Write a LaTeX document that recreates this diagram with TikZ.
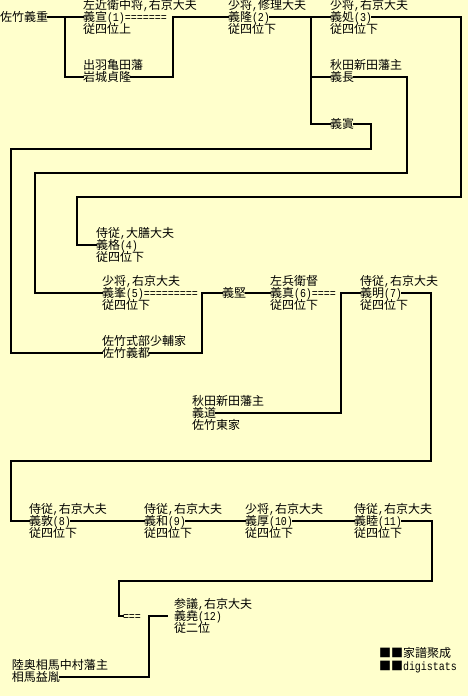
\documentclass[tikz,border=0pt]{standalone}
\usepackage{fontspec}
\setmainfont{Noto Sans CJK JP}
\newfontfamily\hwfont[FakeStretch=0.833]{Liberation Mono}
\newcommand{\hw}[1]{{\hwfont #1}}
\definecolor{bgyellow}{HTML}{FFFFCC}
\begin{document}
\begin{tikzpicture}[x=1pt,y=-1pt,
  lbl/.style={anchor=west,inner sep=0pt,outer sep=0pt,font=\fontsize{12}{12}\selectfont,text height=10.56pt,text depth=1.44pt},
  conn/.style={line width=2.2pt,line join=miter,line cap=rect}]
\fill[bgyellow] (0,0) rectangle (468,696);
\useasboundingbox (0,0) rectangle (468,696);
% generation 0
\node[lbl] (t1) at (0,17) {佐竹義重};
% 1
\node[lbl] (n1a) at (83,5) {左近衛中将\hw{,}右京大夫};
\node[lbl] (n1) at (83,17) {義宣\hw{(1)=======}};
\node[lbl] (n1c) at (83,29) {従四位上};
\node[lbl] (iwa) at (83,65) {出羽亀田藩};
\node[lbl] (iw) at (83,77) {岩城貞隆};
% 2
\node[lbl] (n2a) at (228,5) {少将\hw{,}修理大夫};
\node[lbl] (n2) at (228,17) {義隆\hw{(2)}};
\node[lbl] (n2c) at (228,29) {従四位下};
% 3
\node[lbl] (n3a) at (330,5) {少将\hw{,}右京大夫};
\node[lbl] (n3) at (330,17) {義処\hw{(3)}};
\node[lbl] (n3c) at (330,29) {従四位下};
\node[lbl] (yna) at (330,65) {秋田新田藩主};
\node[lbl] (yn) at (330,77) {義長};
\node[lbl] (yo) at (330,124) {義寘};
% 4
\node[lbl] (n4a) at (96,233) {侍従\hw{,}大膳大夫};
\node[lbl] (n4) at (96,245) {義格\hw{(4)}};
\node[lbl] (n4c) at (96,257) {従四位下};
% 5
\node[lbl] (n5a) at (102,281) {少将\hw{,}右京大夫};
\node[lbl] (n5) at (102,293) {義峯\hw{(5)=========}};
\node[lbl] (n5c) at (102,305) {従四位下};
\node[lbl] (ysata) at (102,341) {佐竹式部少輔家};
\node[lbl] (ysat) at (102,353) {佐竹義都};
\node[lbl] (yk) at (222,293) {義堅};
% 6
\node[lbl] (n6a) at (270,281) {左兵衛督};
\node[lbl] (n6) at (270,293) {義真\hw{(6)====}};
\node[lbl] (n6c) at (270,305) {従四位下};
\node[lbl] (yda) at (192,401) {秋田新田藩主};
\node[lbl] (yd) at (192,413) {義道};
\node[lbl] (ydc) at (192,425) {佐竹東家};
% 7
\node[lbl] (n7a) at (360,281) {侍従\hw{,}右京大夫};
\node[lbl] (n7) at (360,293) {義明\hw{(7)}};
\node[lbl] (n7c) at (360,305) {従四位下};
% 8-11
\node[lbl] (n8a) at (29,509) {侍従\hw{,}右京大夫};
\node[lbl] (n8) at (29,521) {義敦\hw{(8)}};
\node[lbl] (n8c) at (29,533) {従四位下};
\node[lbl] (n9a) at (144,509) {侍従\hw{,}右京大夫};
\node[lbl] (n9) at (144,521) {義和\hw{(9)}};
\node[lbl] (n9c) at (144,533) {従四位下};
\node[lbl] (n10a) at (245,509) {少将\hw{,}右京大夫};
\node[lbl] (n10) at (245,521) {義厚\hw{(10)}};
\node[lbl] (n10c) at (245,533) {従四位下};
\node[lbl] (n11a) at (354,509) {侍従\hw{,}右京大夫};
\node[lbl] (n11) at (354,521) {義睦\hw{(11)}};
\node[lbl] (n11c) at (354,533) {従四位下};
% 12
\node[lbl] (eq) at (123,616) {\hw{===}};
\node[lbl] (n12a) at (174,604) {参議\hw{,}右京大夫};
\node[lbl] (n12) at (174,616) {義堯\hw{(12)}};
\node[lbl] (n12c) at (174,628) {従二位};
\node[lbl] (sma) at (12,665) {陸奥相馬中村藩主};
\node[lbl] (sm) at (12,677) {相馬益胤};
% logo
\node[lbl] (logo1) at (379,653) {■■家譜聚成};
\node[lbl] (logo2) at (379,666) {■■\hw{digistats}};
% junctions
\coordinate (j1) at (65,17);
\coordinate (j2) at (173,17);
\coordinate (j3) at (311,17);
\coordinate (k1) at (461,197);
\coordinate (k2) at (77,245);
\coordinate (m1) at (407,173);
\coordinate (m2) at (35,293);
\coordinate (p1) at (371,149);
\coordinate (p2) at (11,353);
\coordinate (q1) at (202,293);
\coordinate (r1) at (341,293);
\coordinate (s1) at (431,461);
\coordinate (s2) at (11,521);
\coordinate (u1) at (432,581);
\coordinate (u2) at (119,616);
\coordinate (v1) at (149,616);
% connectors
\draw[conn] (t1.east) -- (n1.west);
\draw[conn] (j1) |- (iw.west);
\draw[conn] (iw.east) -| (j2) -- (n2.west);
\draw[conn] (n2.east) -- (n3.west);
\draw[conn] (j3) |- (yn.west);
\draw[conn] (j3) |- (yo.west);
\draw[conn] (n3.east) -| (k1) -| (k2) -- (n4.west);
\draw[conn] (yn.east) -| (m1) -| (m2) -- (n5.west);
\draw[conn] (yo.east) -| (p1) -| (p2) -- (ysat.west);
\draw[conn] (ysat.east) -| (q1) -- (yk.west);
\draw[conn] (yk.east) -- (n6.west);
\draw[conn] (yd.east) -| (r1) -- (n7.west);
\draw[conn] (n7.east) -| (s1) -| (s2) -- (n8.west);
\draw[conn] (n8.east) -- (n9.west);
\draw[conn] (n9.east) -- (n10.west);
\draw[conn] (n10.east) -- (n11.west);
\draw[conn] (n11.east) -| (u1) -| (u2) -- (eq.west);
\draw[conn] (sm.east) -| (v1) -- ([xshift=-7pt]n12.west);
\end{tikzpicture}
\end{document}
